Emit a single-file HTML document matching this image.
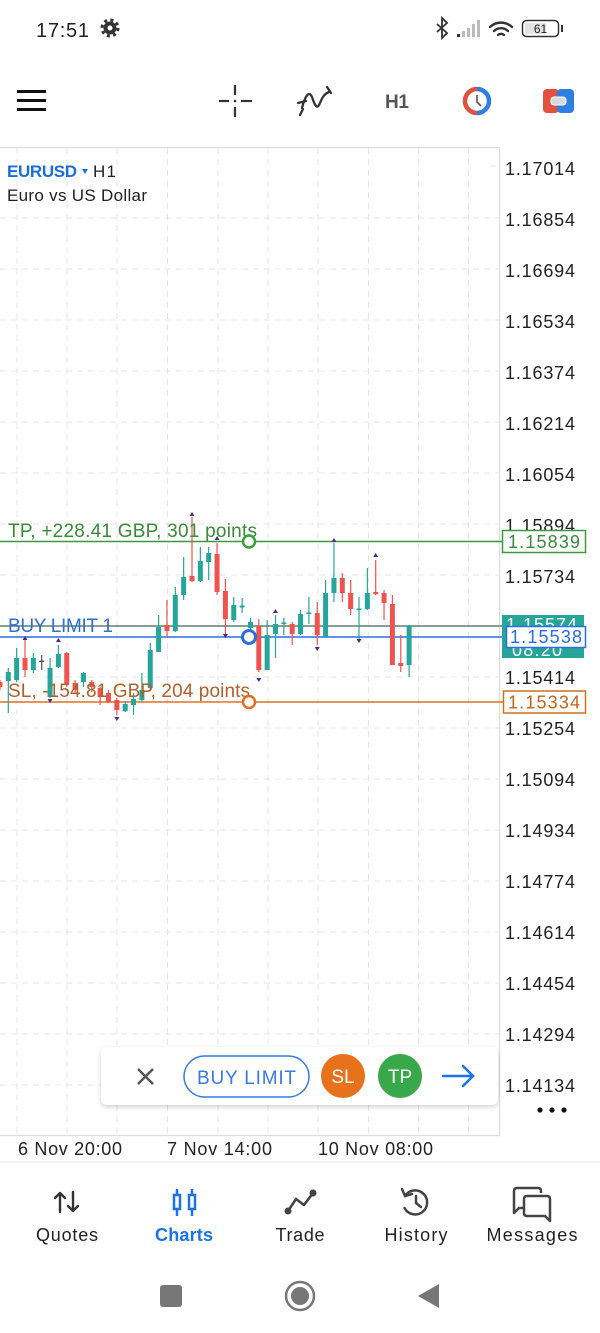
<!DOCTYPE html>
<html><head><meta charset="utf-8"><style>
html,body{margin:0;padding:0;background:#fff;width:600px;height:1333px;overflow:hidden}
svg{display:block}
text{font-family:"Liberation Sans",Arial,sans-serif}
</style></head><body>
<svg width="600" height="1333" viewBox="0 0 600 1333" xmlns="http://www.w3.org/2000/svg">
<defs>
<filter id="sh" x="-10%" y="-30%" width="120%" height="170%"><feDropShadow dx="0" dy="2" stdDeviation="2.5" flood-color="#000" flood-opacity="0.18"/></filter>
</defs>
<rect width="600" height="1333" fill="#fff"/>

<!-- status bar -->
<text x="36" y="37" font-size="20" fill="#222" textLength="53">17:51</text>
<g transform="translate(110,28)">
<circle r="8" fill="none" stroke="#333" stroke-width="3" stroke-dasharray="3 3.3"/>
<circle r="6.5" fill="#333"/>
<circle r="2.5" fill="#fff"/>
</g>
<path d="M437,24 L447,33 L442,38 L442,18 L447,23 L437,32" stroke="#333" stroke-width="1.8" fill="none"/>
<rect x="457" y="34" width="3" height="3" fill="#333"/>
<rect x="462" y="31" width="3" height="6" fill="#bbb"/>
<rect x="467" y="28" width="3" height="9" fill="#bbb"/>
<rect x="472" y="24" width="3" height="13" fill="#bbb"/>
<rect x="477" y="20" width="3" height="17" fill="#bbb"/>
<g fill="none" stroke="#333" stroke-width="2.4" stroke-linecap="round">
<path d="M490,27 A16,16 0 0 1 512,27"/>
<path d="M494,31 A10,10 0 0 1 508,31"/>
<path d="M498,35 A4.5,4.5 0 0 1 504,35"/>
</g>
<rect x="522.5" y="20.5" width="36" height="16" rx="4" fill="none" stroke="#333" stroke-width="1.5"/>
<rect x="525" y="23" width="21" height="11" rx="1.5" fill="#e2e2e2"/>
<text x="540.5" y="33" font-size="12" fill="#222" text-anchor="middle">61</text>
<rect x="561" y="25" width="2" height="7" fill="#333"/>

<!-- toolbar -->
<rect x="17" y="90" width="29" height="3" fill="#111"/>
<rect x="17" y="99" width="29" height="3" fill="#111"/>
<rect x="17" y="108" width="29" height="3" fill="#111"/>
<g stroke="#333" stroke-width="2.2">
<line x1="219" y1="101" x2="229" y2="101"/><line x1="241" y1="101" x2="252" y2="101"/>
<line x1="235" y1="85" x2="235" y2="95"/><line x1="235" y1="107" x2="235" y2="117"/>
</g>
<circle cx="235" cy="101" r="1.3" fill="#333"/>
<g fill="none" stroke="#333" stroke-width="2.3" stroke-linecap="round">
<path d="M302,108 C305,96 309,90 312,97 C315,106 317,110 320,103 C322,98 324,94 329,92"/>
<line x1="298" y1="103" x2="306" y2="101"/>
<line x1="300" y1="115" x2="303" y2="109"/>
<line x1="327" y1="87" x2="331" y2="93"/>
</g>
<text x="385" y="108" font-size="19" font-weight="bold" fill="#555" textLength="24">H1</text>
<path d="M477,89 A12,12 0 0 0 477,113" fill="none" stroke="#e0513f" stroke-width="4.5"/>
<path d="M477,89 A12,12 0 0 1 477,113" fill="none" stroke="#2d7fe3" stroke-width="4.5"/>
<path d="M477,95 L477,102 L481,106" fill="none" stroke="#555" stroke-width="1.6"/>
<rect x="543" y="89" width="16" height="24" rx="4" fill="#e0513f"/>
<rect x="557" y="89" width="17" height="24" rx="4" fill="#2d7fe3"/>
<rect x="551" y="97" width="15" height="8" rx="3" fill="#d8d8e0" stroke="#fff" stroke-width="1"/>

<!-- chart frame & grid -->
<g stroke="#e4e4e4" stroke-width="1" stroke-dasharray="6 5">
<line x1="17" y1="148" x2="17" y2="1135"/><line x1="67" y1="148" x2="67" y2="1135"/>
<line x1="117" y1="148" x2="117" y2="1135"/><line x1="167.5" y1="148" x2="167.5" y2="1135"/>
<line x1="218" y1="148" x2="218" y2="1135"/><line x1="268" y1="148" x2="268" y2="1135"/>
<line x1="318" y1="148" x2="318" y2="1135"/><line x1="368.5" y1="148" x2="368.5" y2="1135"/>
<line x1="418.5" y1="148" x2="418.5" y2="1135"/><line x1="468.5" y1="148" x2="468.5" y2="1135"/>
<line x1="0" y1="218" x2="499" y2="218"/><line x1="0" y1="269" x2="499" y2="269"/>
<line x1="0" y1="320" x2="499" y2="320"/><line x1="0" y1="371" x2="499" y2="371"/>
<line x1="0" y1="422" x2="499" y2="422"/><line x1="0" y1="473" x2="499" y2="473"/>
<line x1="0" y1="524" x2="499" y2="524"/><line x1="0" y1="575" x2="499" y2="575"/>
<line x1="0" y1="677" x2="499" y2="677"/><line x1="0" y1="728" x2="499" y2="728"/>
<line x1="0" y1="779" x2="499" y2="779"/><line x1="0" y1="830" x2="499" y2="830"/>
<line x1="0" y1="881" x2="499" y2="881"/><line x1="0" y1="932" x2="499" y2="932"/>
<line x1="0" y1="983" x2="499" y2="983"/><line x1="0" y1="1034" x2="499" y2="1034"/>
<line x1="0" y1="1085" x2="499" y2="1085"/>
<line x1="490" y1="166" x2="499" y2="166"/>
</g>
<g stroke="#dcdcdc" stroke-width="1.2" fill="none">
<path d="M0,147.5 H499.5 V1135.5 H0"/>
</g>

<!-- header -->
<text x="7" y="177" font-size="17" font-weight="bold" fill="#1a6fd6" textLength="70">EURUSD</text>
<path d="M82,169 L88,169 L85,174 Z" fill="#1a6fd6"/>
<text x="93" y="177" font-size="17" fill="#222" textLength="23">H1</text>
<text x="7" y="201" font-size="17" fill="#222" textLength="140">Euro vs US Dollar</text>

<!-- price labels -->
<g font-size="18" fill="#222">
<text x="505" y="175" textLength="70">1.17014</text>
<text x="505" y="226" textLength="70">1.16854</text>
<text x="505" y="277" textLength="70">1.16694</text>
<text x="505" y="328" textLength="70">1.16534</text>
<text x="505" y="379" textLength="70">1.16374</text>
<text x="505" y="430" textLength="70">1.16214</text>
<text x="505" y="481" textLength="70">1.16054</text>
<text x="505" y="532" textLength="70">1.15894</text>
<text x="505" y="583" textLength="70">1.15734</text>
<text x="505" y="684" textLength="70">1.15414</text>
<text x="505" y="735" textLength="70">1.15254</text>
<text x="505" y="786" textLength="70">1.15094</text>
<text x="505" y="837" textLength="70">1.14934</text>
<text x="505" y="888" textLength="70">1.14774</text>
<text x="505" y="939" textLength="70">1.14614</text>
<text x="505" y="990" textLength="70">1.14454</text>
<text x="505" y="1041" textLength="70">1.14294</text>
<text x="505" y="1092" textLength="70">1.14134</text>
</g>

<!-- order lines -->
<line x1="0" y1="541.5" x2="502" y2="541.5" stroke="#3a9a3a" stroke-width="1.5"/>
<line x1="0" y1="626" x2="502" y2="626" stroke="#5f7f70" stroke-width="1.5"/>
<line x1="0" y1="637" x2="506" y2="637" stroke="#2a6fe0" stroke-width="1.5"/>
<line x1="0" y1="702" x2="503" y2="702" stroke="#e07020" stroke-width="1.5"/>

<!-- candles -->
<g fill="#26a69a" stroke="none">
<rect x="7.7" y="668" width="1.2" height="45"/><rect x="5.8" y="672" width="5" height="9"/>
<rect x="16.05" y="648" width="1.2" height="34"/><rect x="14.15" y="658" width="5" height="22"/>
<rect x="32.75" y="653" width="1.2" height="20"/><rect x="30.85" y="658" width="5" height="12"/>
<rect x="49.45" y="658" width="1.2" height="40"/><rect x="47.55" y="668" width="5" height="29"/>
<rect x="57.8" y="645" width="1.2" height="23"/><rect x="55.9" y="654" width="5" height="13"/>
<rect x="82.85" y="672" width="1.2" height="15"/><rect x="80.95" y="673" width="5" height="9"/>
<rect x="124.6" y="701" width="1.2" height="11"/><rect x="122.7" y="704" width="5" height="7"/>
<rect x="132.95" y="693" width="1.2" height="22"/><rect x="131.05" y="699" width="5" height="6"/>
<rect x="141.3" y="673" width="1.2" height="29"/><rect x="139.4" y="690" width="5" height="10"/>
<rect x="149.65" y="643" width="1.2" height="47"/><rect x="147.75" y="650" width="5" height="38"/>
<rect x="158" y="615" width="1.2" height="37"/><rect x="156.1" y="627" width="5" height="25"/>
<rect x="174.7" y="587" width="1.2" height="45"/><rect x="172.8" y="595" width="5" height="36"/>
<rect x="183.05" y="557" width="1.2" height="43"/><rect x="181.15" y="577" width="5" height="18"/>
<rect x="199.75" y="547" width="1.2" height="35"/><rect x="197.85" y="561" width="5" height="20"/>
<rect x="208.1" y="547" width="1.2" height="33"/><rect x="206.2" y="553" width="5" height="9"/>
<rect x="233.15" y="597" width="1.2" height="25"/><rect x="231.25" y="605" width="5" height="15"/>
<rect x="241.5" y="598" width="1.2" height="15"/><rect x="239.6" y="605.5" width="5" height="2"/>
<rect x="249.85" y="618" width="1.2" height="12"/><rect x="247.95" y="622" width="5" height="6"/>
<rect x="266.55" y="620" width="1.2" height="50"/><rect x="264.65" y="635" width="5" height="35"/>
<rect x="274.9" y="615" width="1.2" height="43"/><rect x="273" y="624" width="5" height="10"/>
<rect x="283.25" y="618" width="1.2" height="17"/><rect x="281.35" y="622.5" width="5" height="1.6"/>
<rect x="299.95" y="610" width="1.2" height="25"/><rect x="298.05" y="614" width="5" height="20"/>
<rect x="308.3" y="597" width="1.2" height="27"/><rect x="306.4" y="612.5" width="5" height="1.6"/>
<rect x="325" y="580" width="1.2" height="57"/><rect x="323.1" y="593" width="5" height="44"/>
<rect x="333.35" y="543" width="1.2" height="59"/><rect x="331.45" y="578" width="5" height="15"/>
<rect x="358.4" y="597" width="1.2" height="43"/><rect x="356.5" y="608.5" width="5" height="1.6"/>
<rect x="366.75" y="568" width="1.2" height="42"/><rect x="364.85" y="593" width="5" height="16"/>
<rect x="408.5" y="625" width="1.2" height="52"/><rect x="406.6" y="626" width="5" height="39"/>
</g>
<g fill="#ef5350" stroke="none">
<rect x="-0.6" y="680" width="1.2" height="10"/><rect x="-2.5" y="682" width="5" height="5"/>
<rect x="24.4" y="640" width="1.2" height="37"/><rect x="22.5" y="658" width="5" height="12"/>
<rect x="66.15" y="652" width="1.2" height="35"/><rect x="64.25" y="653" width="5" height="32"/>
<rect x="74.5" y="680" width="1.2" height="13"/><rect x="72.6" y="683" width="5" height="7"/>
<rect x="91.2" y="680" width="1.2" height="12"/><rect x="89.3" y="682" width="5" height="5"/>
<rect x="99.55" y="687" width="1.2" height="18"/><rect x="97.65" y="688" width="5" height="9"/>
<rect x="107.9" y="690" width="1.2" height="13"/><rect x="106" y="693" width="5" height="9"/>
<rect x="116.25" y="698" width="1.2" height="17"/><rect x="114.35" y="700" width="5" height="10"/>
<rect x="166.35" y="600" width="1.2" height="37"/><rect x="164.45" y="625" width="5" height="6"/>
<rect x="191.4" y="517" width="1.2" height="65"/><rect x="189.5" y="576" width="5" height="5"/>
<rect x="216.45" y="543" width="1.2" height="52"/><rect x="214.55" y="554" width="5" height="38"/>
<rect x="224.8" y="579" width="1.2" height="58"/><rect x="222.9" y="591" width="5" height="28"/>
<rect x="258.2" y="619" width="1.2" height="53"/><rect x="256.3" y="626" width="5" height="44"/>
<rect x="291.6" y="622" width="1.2" height="23"/><rect x="289.7" y="624" width="5" height="10"/>
<rect x="316.65" y="602" width="1.2" height="43"/><rect x="314.75" y="613" width="5" height="22"/>
<rect x="341.7" y="573" width="1.2" height="29"/><rect x="339.8" y="578" width="5" height="15"/>
<rect x="350.05" y="580" width="1.2" height="35"/><rect x="348.15" y="593" width="5" height="16"/>
<rect x="375.1" y="560" width="1.2" height="35"/><rect x="373.2" y="592" width="5" height="2.2"/>
<rect x="383.45" y="590" width="1.2" height="30"/><rect x="381.55" y="593" width="5" height="10"/>
<rect x="391.8" y="595" width="1.2" height="70"/><rect x="389.9" y="604" width="5" height="61"/>
<rect x="400.15" y="635" width="1.2" height="37"/><rect x="398.25" y="663" width="5" height="3"/>
</g>
<g fill="#555"><rect x="41.1" y="655" width="1.2" height="15"/><rect x="39.2" y="660.5" width="5" height="1.6"/></g>
<!-- markers -->
<g fill="#4b2a8c">
<path d="M22.5,640 L27.5,640 L25,636 Z"/>
<path d="M55.9,642 L60.9,642 L58.4,638 Z"/>
<path d="M189.5,516 L194.5,516 L192,512 Z"/>
<path d="M214.55,540 L219.55,540 L217.05,536 Z"/>
<path d="M273,613 L278,613 L275.5,609 Z"/>
<path d="M331.45,542 L336.45,542 L333.95,538 Z"/>
<path d="M373.2,557 L378.2,557 L375.7,553 Z"/>
<path d="M47.55,699 L52.55,699 L50.05,703 Z"/>
<path d="M114.35,717 L119.35,717 L116.85,721 Z"/>
<path d="M222.9,634 L227.9,634 L225.4,638 Z"/>
<path d="M256.3,678 L261.3,678 L258.8,682 Z"/>
<path d="M314.75,647 L319.75,647 L317.25,651 Z"/>
<path d="M356.5,639 L361.5,639 L359,643 Z"/>
</g>

<!-- line labels -->
<text x="8" y="537" font-size="19" fill="#3a8a3a" textLength="249">TP, +228.41 GBP, 301 points</text>
<text x="8" y="632" font-size="19" fill="#2f6fd0" textLength="105">BUY LIMIT 1</text>
<text x="8" y="697" font-size="19" fill="#b0602a" textLength="242">SL, -154.81 GBP, 204 points</text>

<circle cx="249" cy="541.5" r="6" fill="#fff" stroke="#3aa03a" stroke-width="2.5"/>
<circle cx="249" cy="637" r="6.5" fill="#fff" stroke="#2a6fe0" stroke-width="3"/>
<circle cx="249" cy="702" r="6" fill="#fff" stroke="#e07020" stroke-width="2.5"/>

<!-- right price boxes -->
<rect x="502" y="615" width="82" height="43" fill="#26a69a"/>
<text x="506" y="631" font-size="18" fill="#fff" textLength="71">1.15574</text>
<text x="512" y="656" font-size="18" fill="#fff" textLength="50">08:20</text>
<rect x="506.5" y="626.5" width="79" height="21" fill="#fff" stroke="#2a6fe0" stroke-width="1.5"/>
<text x="510" y="643" font-size="18" fill="#2a6fe0" textLength="72">1.15538</text>
<rect x="502.5" y="530.5" width="83" height="22" fill="#fff" stroke="#3a9a3a" stroke-width="1.5"/>
<text x="508" y="548" font-size="18" fill="#3a8a3a" textLength="72">1.15839</text>
<rect x="503.5" y="691" width="82" height="22" fill="#fff" stroke="#d0701c" stroke-width="1.5"/>
<text x="508" y="708.5" font-size="18" fill="#c0651c" textLength="72">1.15334</text>

<!-- popup -->
<rect x="101" y="1047" width="397" height="58" rx="6" fill="#fff" filter="url(#sh)"/>
<g stroke="#555" stroke-width="2.5"><line x1="138" y1="1069" x2="153" y2="1084"/><line x1="153" y1="1069" x2="138" y2="1084"/></g>
<rect x="184" y="1056" width="125" height="41" rx="20.5" fill="none" stroke="#3a7be0" stroke-width="1.5"/>
<text x="246.5" y="1084" font-size="19" fill="#3a7be0" text-anchor="middle" textLength="99">BUY LIMIT</text>
<circle cx="343" cy="1076" r="22" fill="#e8711c"/>
<text x="343" y="1083" font-size="19" fill="#fff" text-anchor="middle">SL</text>
<circle cx="400" cy="1076" r="22" fill="#38a84a"/>
<text x="400" y="1083" font-size="19" fill="#fff" text-anchor="middle">TP</text>
<g stroke="#1a73e8" stroke-width="2.5" fill="none" stroke-linecap="round"><line x1="443" y1="1076" x2="473" y2="1076"/><path d="M463,1066 L473,1076 L463,1086"/></g>
<g fill="#111"><circle cx="540" cy="1110" r="2.6"/><circle cx="552" cy="1110" r="2.6"/><circle cx="564" cy="1110" r="2.6"/></g>

<!-- time labels -->
<g font-size="18" fill="#222">
<text x="18" y="1155" textLength="104">6 Nov 20:00</text>
<text x="167" y="1155" textLength="105">7 Nov 14:00</text>
<text x="318" y="1155" textLength="115">10 Nov 08:00</text>
</g>
<line x1="0" y1="1162" x2="600" y2="1162" stroke="#f0f0f0" stroke-width="1.5"/>

<!-- bottom nav -->
<g stroke="#333" stroke-width="2.4" fill="none" stroke-linecap="round" stroke-linejoin="round">
<path d="M60,1212 V1193 M55,1198 L60,1193 L65,1198"/>
<path d="M73,1192 V1211 M68,1206 L73,1211 L78,1206"/>
</g>
<g stroke="#1a73e8" stroke-width="2.5" fill="none">
<line x1="177" y1="1189" x2="177" y2="1216"/><rect x="174" y="1195" width="6" height="14" fill="#fff"/>
<line x1="192" y1="1189" x2="192" y2="1216"/><rect x="189" y="1195" width="6" height="14" fill="#fff"/>
</g>
<g fill="#444"><circle cx="288" cy="1211" r="3.5"/><circle cx="313" cy="1193" r="3.5"/></g>
<path d="M288,1211 L296,1199 L304,1205 L313,1193" stroke="#444" stroke-width="2.6" fill="none" stroke-linejoin="round"/>
<g stroke="#444" stroke-width="2.5" fill="none" stroke-linecap="round">
<path d="M405,1196 A12,12 0 1 1 404.5,1208"/>
<path d="M402,1189 L405,1196 L412,1194"/>
<path d="M416,1196 V1203 L421,1207"/>
</g>
<g stroke="#444" stroke-width="2.5" fill="none" stroke-linejoin="round">
<path d="M517,1188 H538 Q541,1188 541,1191 V1193 M517,1188 Q514,1188 514,1191 V1213 L519,1208 H524"/>
<path d="M527,1196 H547 Q550,1196 550,1199 V1221 L545,1216 H527 Q524,1216 524,1213 V1199 Q524,1196 527,1196 Z"/>
</g>
<g font-size="18" fill="#222" text-anchor="middle">
<text x="67" y="1241" textLength="62">Quotes</text>
<text x="184" y="1241" font-weight="bold" fill="#1a73e8" textLength="58">Charts</text>
<text x="300" y="1241" textLength="49">Trade</text>
<text x="416" y="1241" textLength="63">History</text>
<text x="532" y="1241" textLength="91">Messages</text>
</g>

<!-- system nav -->
<rect x="160" y="1285" width="22" height="22" rx="3" fill="#777"/>
<circle cx="300" cy="1296" r="14" fill="none" stroke="#777" stroke-width="2.5"/>
<circle cx="300" cy="1296" r="9" fill="#777"/>
<path d="M439,1284 L439,1308 L418,1296 Z" fill="#777"/>
</svg>
</body></html>
